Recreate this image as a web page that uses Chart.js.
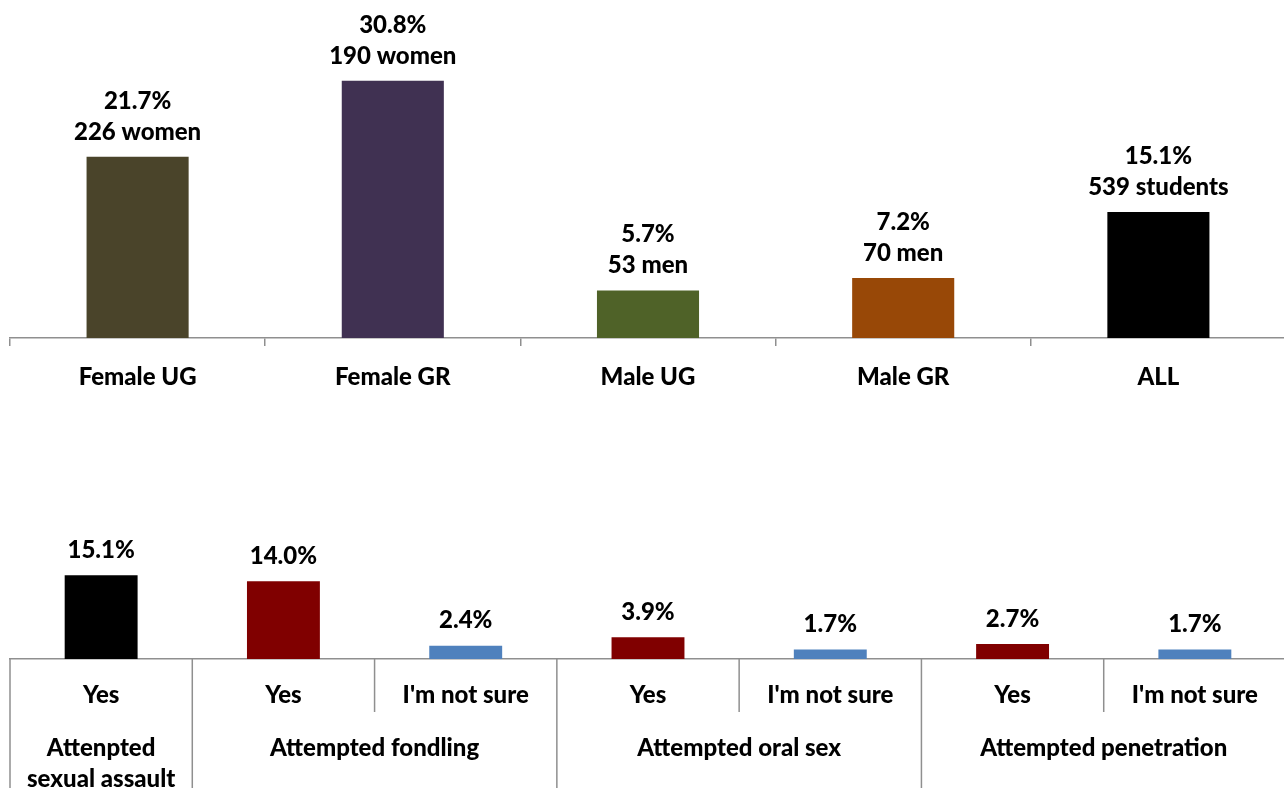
<!DOCTYPE html>
<html>
<head>
<meta charset="utf-8">
<script src="https://cdn.jsdelivr.net/npm/chart.js@4/dist/chart.umd.min.js"></script>
<style>
  html, body { margin: 0; padding: 0; background: #fff; overflow: hidden; width: 1284px; height: 788px; }
  canvas { position: absolute; left: 0; }
  #topChart { top: 0; }
  #bottomChart { top: 500px; }
</style>
</head>
<body>
<canvas id="topChart" width="1290" height="400"></canvas>
<canvas id="bottomChart" width="1290" height="288"></canvas>
<script>
// Share of students reporting an experience, by group
const groupLabels = ['Female UG', 'Female GR', 'Male UG', 'Male GR', 'ALL'];
const groupPercent = [21.7, 30.8, 5.7, 7.2, 15.1];
const groupCounts = ['226 women', '190 women', '53 men', '70 men', '539 students'];
const groupColors = ['#4a442a', '#403152', '#4f6228', '#984807', '#000000'];

// Breakdown by type of attempt
const typeAnswers = ['Yes', 'Yes', "I'm not sure", 'Yes', "I'm not sure", 'Yes', "I'm not sure"];
const typePercent = [15.1, 14.0, 2.4, 3.9, 1.7, 2.7, 1.7];
const typeColors = ['#000000', '#800000', '#4f81bd', '#800000', '#4f81bd', '#800000', '#4f81bd'];
const typeGroups = [['Attenpted', 'sexual assault'], ['Attempted fondling'], ['Attempted oral sex'], ['Attempted penetration']];
const typeGroupSpans = [1, 2, 2, 2];

const FONT = 'Lato, "Open Sans", sans-serif';
const WEIGHT = '900';
const SIZE = 24;
const AXIS_GREY = '#8f8f8f';

// Writes value labels (one or more lines) above each bar
function valueLabels(linesFor, gapFromBar, lineStep) {
  return {
    id: 'valueLabels',
    afterDatasetsDraw(chart) {
      const ctx = chart.ctx;
      const meta = chart.getDatasetMeta(0);
      ctx.save();
      ctx.font = WEIGHT + ' ' + SIZE + 'px ' + FONT;
      ctx.fillStyle = '#000';
      ctx.textAlign = 'center';
      ctx.textBaseline = 'middle';
      meta.data.forEach((bar, i) => {
        const lines = linesFor(i);
        lines.forEach((txt, k) => {
          const fromBottom = lines.length - 1 - k;
          ctx.fillText(txt, bar.x, bar.y - gapFromBar - fromBottom * lineStep);
        });
      });
      ctx.restore();
    }
  };
}

new Chart(document.getElementById('topChart'), {
  type: 'bar',
  data: {
    labels: groupLabels,
    datasets: [{ data: groupPercent, backgroundColor: groupColors, barPercentage: 0.4, categoryPercentage: 1 }]
  },
  options: {
    responsive: false,
    animation: false,
    events: [],
    layout: { padding: { left: 10, right: 4, top: 4, bottom: 0 } },
    plugins: { legend: { display: false }, tooltip: { enabled: false } },
    scales: {
      x: {
        afterFit: s => { s.height = 62; },
        grid: { display: true, drawOnChartArea: false, drawTicks: true, tickLength: 8, color: AXIS_GREY, lineWidth: 1.5, offset: true },
        border: { display: true, color: AXIS_GREY, width: 1.5 },
        ticks: { color: '#000', font: { family: FONT, size: SIZE, weight: WEIGHT }, padding: 17, maxRotation: 0, autoSkip: false }
      },
      y: { display: false, min: 0, max: 40 }
    }
  },
  plugins: [valueLabels(i => [groupPercent[i].toFixed(1) + '%', groupCounts[i]], 25, 31)]
});

// Divider lines and group captions under the category axis
const groupAxis = {
  id: 'groupAxis',
  afterDraw(chart) {
    const ctx = chart.ctx;
    const x = chart.scales.x;
    const half = (x.getPixelForValue(1) - x.getPixelForValue(0)) / 2;
    const top = chart.chartArea.bottom;
    const innerBottom = top + 53;
    const outerBottom = chart.height;
    ctx.save();
    ctx.strokeStyle = AXIS_GREY;
    ctx.lineWidth = 1.5;
    const line = (px, y2) => { ctx.beginPath(); ctx.moveTo(px, top); ctx.lineTo(px, y2); ctx.stroke(); };
    let idx = 0;
    ctx.font = WEIGHT + ' ' + SIZE + 'px ' + FONT;
    ctx.fillStyle = '#000';
    ctx.textAlign = 'center';
    ctx.textBaseline = 'middle';
    typeGroups.forEach((caption, g) => {
      const span = typeGroupSpans[g];
      const left = x.getPixelForValue(idx) - half;
      const right = x.getPixelForValue(idx + span - 1) + half;
      line(left, outerBottom);
      for (let k = 1; k < span; k++) line(x.getPixelForValue(idx + k) - half, innerBottom);
      if (g === typeGroups.length - 1) line(right, outerBottom);
      const cx = (left + right) / 2;
      caption.forEach((txt, li) => ctx.fillText(txt, cx, top + 89 + li * 31));
      idx += span;
    });
    ctx.restore();
  }
};

new Chart(document.getElementById('bottomChart'), {
  type: 'bar',
  data: {
    labels: typeAnswers,
    datasets: [{ data: typePercent, backgroundColor: typeColors, barPercentage: 0.4, categoryPercentage: 1 }]
  },
  options: {
    responsive: false,
    animation: false,
    events: [],
    layout: { padding: { left: 10, right: 4, top: 48, bottom: 0 } },
    plugins: { legend: { display: false }, tooltip: { enabled: false } },
    scales: {
      x: {
        afterFit: s => { s.height = 129; },
        grid: { display: false, drawTicks: false },
        border: { display: true, color: AXIS_GREY, width: 1.5 },
        ticks: { color: '#000', font: { family: FONT, size: SIZE, weight: WEIGHT }, padding: 22, maxRotation: 0, autoSkip: false }
      },
      y: { display: false, min: 0, max: 20 }
    }
  },
  plugins: [valueLabels(i => [typePercent[i].toFixed(1) + '%'], 25, 31), groupAxis]
});
</script>
</body>
</html>
